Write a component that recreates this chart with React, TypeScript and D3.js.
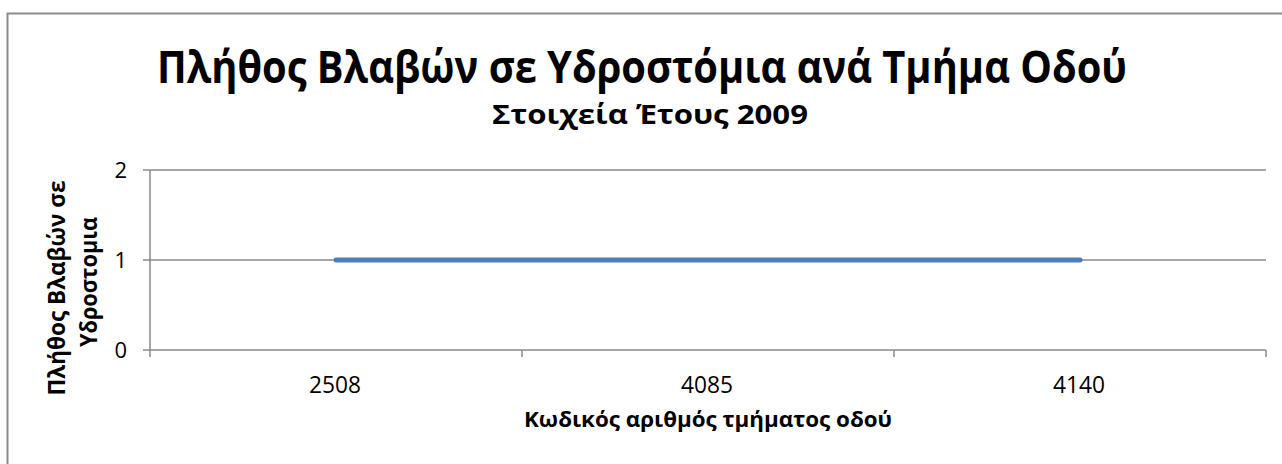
import React, { useEffect, useRef } from "react";
import * as d3 from "d3";

const categories = ["2508", "4085", "4140"];
const damages = [1, 1, 1];
const yTicks = [0, 1, 2];

const title = "Πλήθος Βλαβών σε Υδροστόμια ανά Τμήμα Οδού";
const subtitle = "Στοιχεία Έτους 2009";
const xTitle = "Κωδικός αριθμός τμήματος οδού";
const yTitleLines = ["Πλήθος Βλαβών σε", "Υδροστομια"];

const W = 1282;
const H = 464;
const plot = { left: 150, right: 1266, top: 170, bottom: 350 };
const FONT = "'Open Sans', 'Noto Sans', sans-serif";
const AXIS = "#8a8a8a";

export default function App() {
  const ref = useRef<SVGSVGElement | null>(null);

  useEffect(() => {
    const svg = d3.select(ref.current);
    svg.selectAll("*").remove();

    svg.append("rect").attr("width", W).attr("height", H).attr("fill", "#fff");
    // outer chart frame
    svg.append("rect")
      .attr("x", 7.5).attr("y", 13.5)
      .attr("width", W + 10).attr("height", H + 10)
      .attr("fill", "none").attr("stroke", "#8c8c8c").attr("stroke-width", 2);

    const x = d3.scaleBand<string>().domain(categories).range([plot.left, plot.right]);
    const y = d3.scaleLinear().domain([0, 2]).range([plot.bottom, plot.top]);

    // gridlines + y ticks
    const g = svg.append("g");
    yTicks.forEach((t) => {
      g.append("line")
        .attr("x1", plot.left - 7).attr("x2", plot.right)
        .attr("y1", y(t)).attr("y2", y(t))
        .attr("stroke", AXIS).attr("stroke-width", 1.5);
      g.append("text")
        .attr("x", plot.left - 23).attr("y", y(t))
        .attr("dy", "0.36em").attr("text-anchor", "end")
        .attr("font-family", FONT).attr("font-size", 22).attr("fill", "#000")
        .text(String(t));
    });

    // y axis line
    g.append("line")
      .attr("x1", plot.left).attr("x2", plot.left)
      .attr("y1", plot.top).attr("y2", plot.bottom + 7)
      .attr("stroke", AXIS).attr("stroke-width", 1.5);

    // x ticks at category boundaries
    const bounds = categories.map((c) => x(c)!).concat([plot.right]);
    bounds.slice(1).forEach((b) => {
      g.append("line")
        .attr("x1", b).attr("x2", b)
        .attr("y1", plot.bottom).attr("y2", plot.bottom + 7)
        .attr("stroke", AXIS).attr("stroke-width", 1.5);
    });

    categories.forEach((c) => {
      g.append("text")
        .attr("x", x(c)! + x.bandwidth() / 2 - 1).attr("y", 393)
        .attr("text-anchor", "middle")
        .attr("font-family", FONT).attr("font-size", 23).attr("fill", "#000")
        .attr("textLength", 52).attr("lengthAdjust", "spacingAndGlyphs")
        .text(c);
    });

    // series line
    const line = d3.line<number>()
      .x((_, i) => x(categories[i])! + x.bandwidth() / 2)
      .y((d) => y(d));
    svg.append("path")
      .attr("d", line(damages))
      .attr("fill", "none").attr("stroke", "#4a7ebb")
      .attr("stroke-width", 5).attr("stroke-linecap", "round");

    // titles
    svg.append("text")
      .attr("x", 642).attr("y", 83).attr("text-anchor", "middle")
      .attr("font-family", FONT).attr("font-weight", "bold").attr("font-size", 45)
      .attr("textLength", 970).attr("lengthAdjust", "spacingAndGlyphs")
      .text(title);
    svg.append("text")
      .attr("x", 650).attr("y", 124).attr("text-anchor", "middle")
      .attr("font-family", FONT).attr("font-weight", "bold").attr("font-size", 27)
      .attr("textLength", 316).attr("lengthAdjust", "spacingAndGlyphs")
      .text(subtitle);
    svg.append("text")
      .attr("x", (plot.left + plot.right) / 2).attr("y", 427).attr("text-anchor", "middle")
      .attr("font-family", FONT).attr("font-weight", "bold").attr("font-size", 22)
      .attr("textLength", 368).attr("lengthAdjust", "spacingAndGlyphs")
      .text(xTitle);

    const yt = svg.append("text")
      .attr("transform", "rotate(-90)")
      .attr("text-anchor", "middle")
      .attr("font-family", FONT).attr("font-weight", "bold").attr("font-size", 24);
    yt.append("tspan").attr("x", -288).attr("y", 65).attr("textLength", 215)
      .attr("lengthAdjust", "spacingAndGlyphs").text(yTitleLines[0]);
    yt.append("tspan").attr("x", -282).attr("y", 97).attr("textLength", 130)
      .attr("lengthAdjust", "spacingAndGlyphs").text(yTitleLines[1]);
  }, []);

  return (
    <svg
      ref={ref}
      width={W}
      height={H}
      style={{ position: "absolute", left: 0, top: 0, display: "block" }}
    />
  );
}
